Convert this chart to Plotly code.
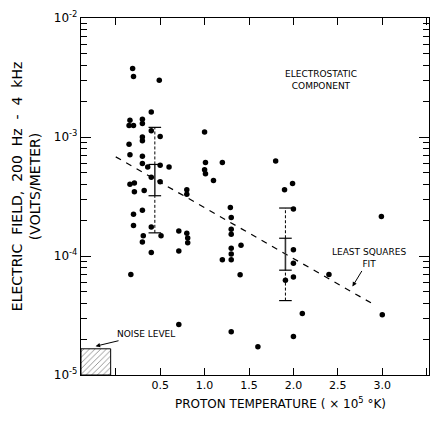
import plotly.graph_objects as go

# ---- data ----
temp = [0.19, 0.20, 0.49, 0.40, 0.16, 0.30, 0.15, 0.20, 0.30, 0.40,
        0.50, 0.30, 0.30, 0.15, 0.16, 0.30, 0.30, 0.50, 0.60, 0.36,
        0.40, 0.16, 0.21, 0.50, 0.21, 0.32, 0.80, 0.80, 0.20, 0.30,
        0.20, 0.40, 0.31, 0.51, 0.30, 0.71, 0.80, 0.81, 0.81, 0.40,
        0.71, 0.17, 0.71, 1.00, 1.01, 1.20, 1.00, 1.01, 1.10, 1.80,
        1.99, 1.90, 2.00, 2.99, 1.29, 1.30, 1.30, 1.30, 1.41, 1.30,
        1.30, 1.30, 1.20, 1.40, 2.00, 2.00, 2.00, 1.91, 2.40, 2.10,
        3.00, 1.30, 2.00, 1.60]
efield = [3.76e-3, 3.22e-3, 3.00e-3, 1.62e-3, 1.38e-3, 1.41e-3, 1.25e-3, 1.25e-3, 1.30e-3, 1.13e-3,
          1.01e-3, 1.00e-3, 9.3e-4, 8.7e-4, 7.1e-4, 6.9e-4, 6.0e-4, 5.8e-4, 5.6e-4, 5.6e-4,
          4.6e-4, 4.0e-4, 4.1e-4, 4.2e-4, 3.46e-4, 3.55e-4, 3.60e-4, 3.30e-4, 2.24e-4, 2.42e-4,
          1.80e-4, 1.75e-4, 1.48e-4, 1.48e-4, 1.31e-4, 1.62e-4, 1.55e-4, 1.42e-4, 1.29e-4, 1.07e-4,
          1.10e-4, 7.0e-5, 2.66e-5, 1.10e-3, 6.1e-4, 6.1e-4, 5.3e-4, 4.9e-4, 4.3e-4, 6.3e-4,
          4.06e-4, 3.60e-4, 2.48e-4, 2.15e-4, 2.56e-4, 2.11e-4, 1.68e-4, 1.52e-4, 1.23e-4, 1.16e-4,
          1.04e-4, 9.3e-5, 9.3e-5, 6.95e-5, 1.13e-4, 8.7e-5, 6.65e-5, 6.27e-5, 7.0e-5, 3.29e-5,
          3.21e-5, 2.31e-5, 2.11e-5, 1.73e-5]

# least squares fit: log10(E) = fit_a + fit_b * T
fit_a = -3.167
fit_b = -0.427
fit_T = [0.0, 2.93]

# error bars (outer dashed, inner solid)
eb_x = [0.44, 1.91]
eb_outer_lo = [1.565e-4, 4.22e-5]
eb_inner_lo = [3.21e-4, 7.6e-5]
eb_inner_hi = [5.88e-4, 1.41e-4]
eb_outer_hi = [1.205e-3, 2.53e-4]

# noise level box
noise_level = 1.66e-5
noise_T = [-0.391, -0.057]

x_ticks = [0.5, 1.0, 1.5, 2.0, 2.5, 3.0]
x_ticktext = ["0.5", "1.0", "1.5", "2.0", "2.5", "3.0"]
x_minor = [0.0, 3.5]
y_ticks = [1e-5, 1e-4, 1e-3, 1e-2]
y_ticktext = ["10<sup>-5</sup>", "10<sup>-4</sup>", "10<sup>-3</sup>", "10<sup>-2</sup>"]
y_minor = [m * 10.0 ** e for e in (-5, -4, -3) for m in range(2, 10)]

FONT = "DejaVu Sans"
NB = "\u00a0"

fig = go.Figure()

# noise box (hatched)
fig.add_trace(go.Scatter(
    x=[noise_T[0], noise_T[1], noise_T[1], noise_T[0], noise_T[0]],
    y=[1e-5, 1e-5, noise_level, noise_level, 1e-5],
    mode="lines", fill="toself", line=dict(color="black", width=1),
    fillcolor="white",
    fillpattern=dict(shape="/", fgcolor="black", bgcolor="white", size=4, solidity=0.2),
    hoverinfo="skip", showlegend=False))

# least squares line
fig.add_trace(go.Scatter(
    x=fit_T, y=[10 ** (fit_a + fit_b * t) for t in fit_T],
    mode="lines", line=dict(color="black", width=1.2, dash="6px,6px"),
    showlegend=False, hoverinfo="skip"))

# error bars
dx, dy, sx, sy, cx, cy = [], [], [], [], [], []
for i, xv in enumerate(eb_x):
    dx += [xv, xv, None, xv, xv, None]
    dy += [eb_outer_lo[i], eb_inner_lo[i], None, eb_inner_hi[i], eb_outer_hi[i], None]
    sx += [xv, xv, None]
    sy += [eb_inner_lo[i], eb_inner_hi[i], None]
    cx += [xv] * 4
    cy += [eb_outer_lo[i], eb_inner_lo[i], eb_inner_hi[i], eb_outer_hi[i]]
fig.add_trace(go.Scatter(x=dx, y=dy, mode="lines",
                         line=dict(color="black", width=1, dash="3px,2px"),
                         showlegend=False, hoverinfo="skip"))
fig.add_trace(go.Scatter(x=sx, y=sy, mode="lines",
                         line=dict(color="#333", width=1.6),
                         showlegend=False, hoverinfo="skip"))
fig.add_trace(go.Scatter(x=cx, y=cy, mode="markers",
                         marker=dict(symbol="line-ew", size=9, line=dict(color="black", width=1.2)),
                         showlegend=False, hoverinfo="skip"))

# data points
fig.add_trace(go.Scatter(x=temp, y=efield, mode="markers",
                         marker=dict(color="black", size=5.5),
                         showlegend=False))

fig.update_xaxes(range=[-0.391, 3.526], tickvals=x_ticks, ticktext=x_ticktext,
                 ticks="inside", ticklen=7, tickcolor="black", mirror="allticks",
                 showline=True, linecolor="black", linewidth=1.3,
                 showgrid=False, zeroline=False,
                 minor=dict(tickvals=x_minor, ticks="inside", ticklen=7, tickcolor="black", showgrid=False),
                 tickfont=dict(family=FONT, size=11, color="black"))
fig.update_yaxes(type="log", range=[-5, -2], tickvals=y_ticks, ticktext=y_ticktext,
                 ticks="inside", ticklen=10, tickcolor="black", mirror="allticks",
                 showline=True, linecolor="black", linewidth=1.3,
                 showgrid=False, zeroline=False,
                 minor=dict(tickvals=y_minor, ticks="inside", ticklen=6, tickcolor="black", showgrid=False),
                 tickfont=dict(family=FONT, size=12, color="black"))

ann_font = dict(family=FONT, size=9, color="black")
ytitle = (NB + " ").join(["ELECTRIC", "FIELD,", "200", "Hz", "-", "4", "kHz"])
fig.update_layout(
    width=439, height=423,
    margin=dict(l=81, r=9, t=15, b=48),
    paper_bgcolor="white", plot_bgcolor="white",
    font=dict(family=FONT, color="black"),
    annotations=[
        dict(text=ytitle + "<br>(VOLTS/METER)",
             xref="paper", yref="paper", x=-0.159, y=0.528, xanchor="center", yanchor="middle",
             textangle=-90, showarrow=False, font=dict(family=FONT, size=14, color="black")),
        dict(text="PROTON TEMPERATURE ( \u00d7 10<sup>5</sup> \u00b0K)",
             xref="paper", yref="paper", x=0.573, y=-0.078, xanchor="center", yanchor="middle",
             showarrow=False, font=dict(family=FONT, size=12, color="black")),
        dict(text="ELECTROSTATIC<br>COMPONENT", xref="paper", yref="paper",
             x=0.69, y=0.825, xanchor="center", yanchor="middle", showarrow=False, font=ann_font),
        dict(text="LEAST SQUARES<br>FIT", xref="paper", yref="paper",
             x=0.780, y=0.248, axref="pixel", ayref="pixel", ax=17, ay=-28,
             showarrow=True, arrowhead=2, arrowsize=0.9, arrowwidth=1, arrowcolor="black",
             font=ann_font),
        dict(text="NOISE LEVEL", xref="paper", yref="paper",
             x=0.042, y=0.0806, ax=50, ay=-12,
             showarrow=True, arrowhead=2, arrowsize=0.9, arrowwidth=1, arrowcolor="black",
             font=ann_font),
    ],
)

fig.write_html("out.html")
